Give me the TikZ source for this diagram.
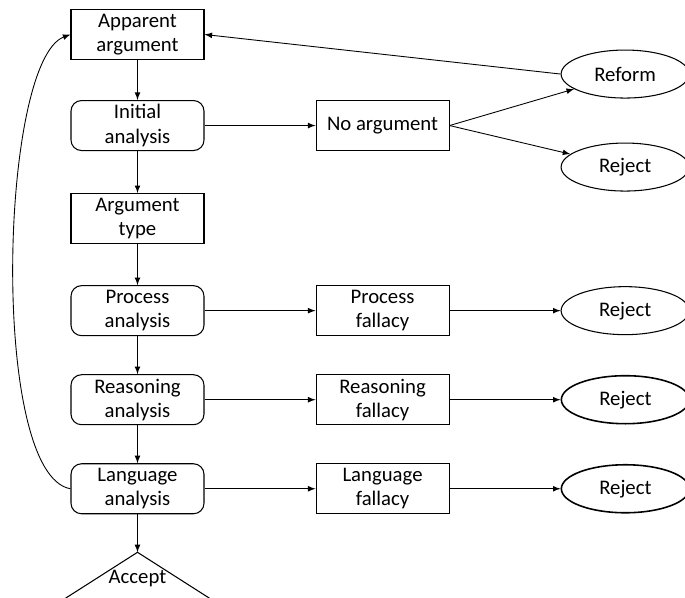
\documentclass[tikz,border=0pt]{standalone}
\usepackage{fontspec}
\setmainfont{Carlito}
\usetikzlibrary{arrows,positioning,shapes.geometric}
\tikzset{
    >=latex,
    font=\fontsize{11.8}{13.8}\selectfont,
    plain box/.style={rectangle,draw,line width=0.6pt,align=center,inner sep=1pt,minimum width=2.66cm,minimum height=1cm},
    round box/.style={plain box,rounded corners=6pt},
    end oval/.style={ellipse,draw,line width=0.6pt,inner sep=0pt,minimum width=2.56cm,minimum height=0.96cm}
}
\begin{document}
\begin{tikzpicture}
    \useasboundingbox (0,0) rectangle (13.7,-11.96);
    % main column
    \node[plain box] (1) at (2.75,-0.69) {Apparent\\argument};
    \node[round box] (2) [below = 0.8cm of 1] {Initial\\analysis};
    \node[plain box] (3) [below = 0.84cm of 2] {Argument\\type};
    \node[round box] (4) [below = 0.82cm of 3] {Process\\analysis};
    \node[round box] (5) [below = 0.76cm of 4] {Reasoning\\analysis};
    \node[round box] (6) [below = 0.76cm of 5] {Language\\analysis};
    \coordinate[below = 0.76cm of 6] (7);
    \draw[line width=0.6pt] (7) -- ++(-1.52,-0.97) -- ++(3.04,0) -- cycle;
    \node (7a) at ([yshift=-0.52cm]7) {Accept};
    % middle column
    \node[plain box] (8) [right = 2.22cm of 2] {No argument};
    \node[plain box] (9) [right = 2.22cm of 4] {Process\\fallacy};
    \node[plain box] (10) [right = 2.22cm of 5] {Reasoning\\fallacy};
    \node[plain box] (11) [right = 2.22cm of 6] {Language\\fallacy};
    % outcomes
    \node[end oval] (12) [right = 2.22cm of 8, yshift=1.03cm] {Reform};
    \node[end oval] (13) [right = 2.22cm of 8, yshift=-0.83cm] {Reject};
    \node[end oval] (14) [right = 2.22cm of 9] {Reject};
    \node[end oval, line width=0.9pt] (15) [right = 2.22cm of 10] {Reject};
    \node[end oval, line width=0.9pt] (16) [right = 2.22cm of 11] {Reject};
    \path[->, line width=0.5pt]
        (1) edge (2)
        (2) edge (3)
        (3) edge (4)
        (4) edge (5)
        (5) edge (6)
        (6) edge (7)
        (2) edge (8)
        (4) edge (9)
        (5) edge (10)
        (6) edge (11)
        (8.east) edge (12)
        (8.east) edge (13)
        (9) edge (14)
        (10) edge (15)
        (11) edge (16)
        (12.west) edge (1.east)
        ;
    \draw[->, line width=0.5pt] (6.west) .. controls +(-1.62,0.28) and +(-1.42,-0.52) .. (1.west);
\end{tikzpicture}
\end{document}
